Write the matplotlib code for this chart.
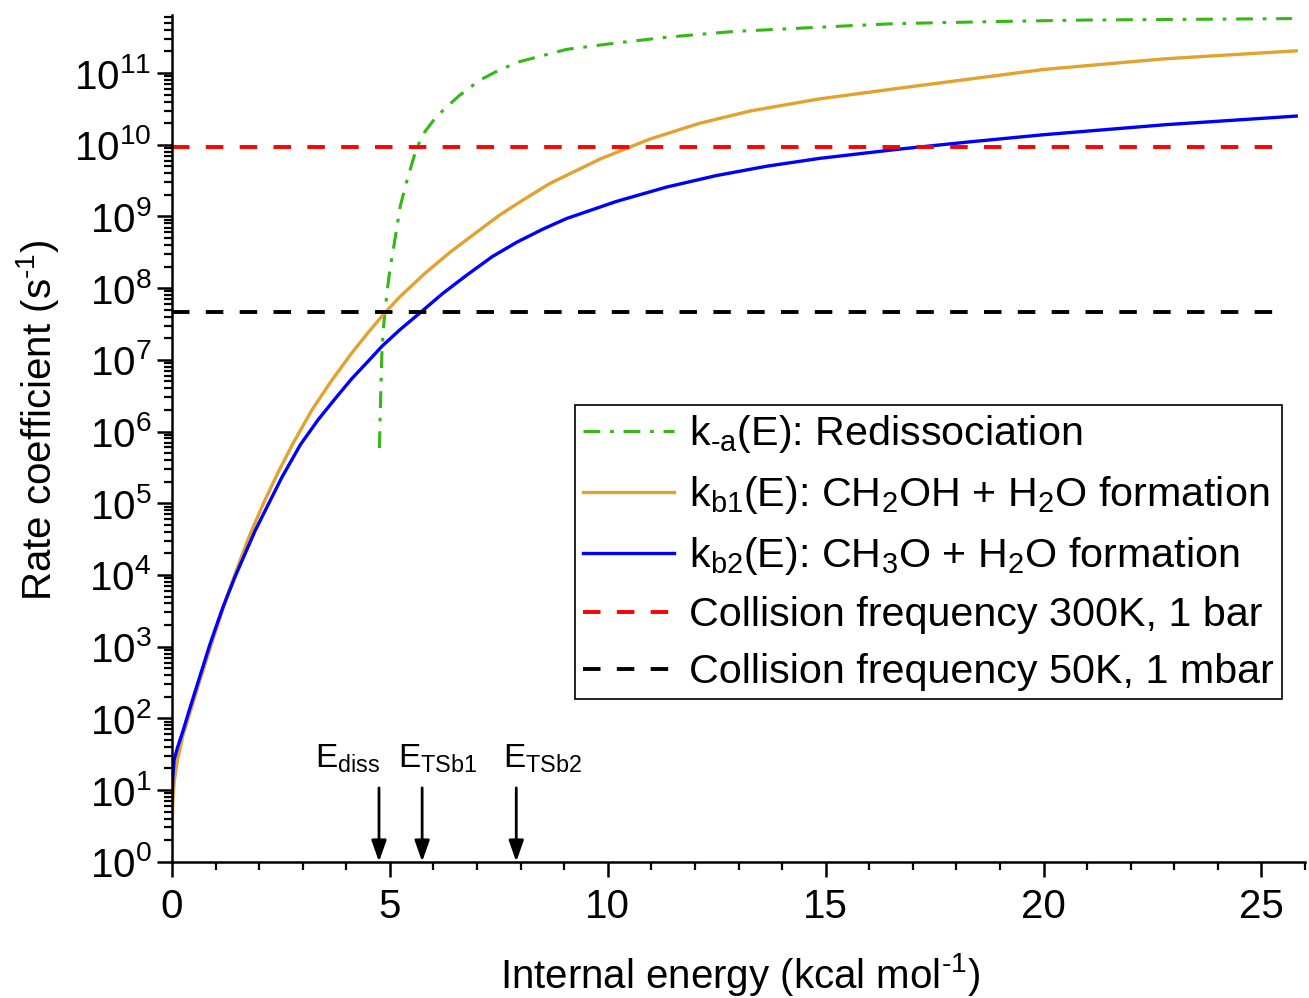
import numpy as np
import matplotlib
matplotlib.use('Agg')
import matplotlib.pyplot as plt
from matplotlib.ticker import LogLocator, MultipleLocator, NullFormatter

plt.rcParams['font.family'] = ['Liberation Sans', 'DejaVu Sans']
plt.rcParams['mathtext.fontset'] = 'custom'
plt.rcParams['mathtext.rm'] = 'Liberation Sans'
plt.rcParams['mathtext.it'] = 'Liberation Sans:italic'
plt.rcParams['mathtext.bf'] = 'Liberation Sans:bold'
plt.rcParams['mathtext.default'] = 'regular'

# ---------------- data ----------------
# k_-a(E): redissociation  (E in kcal/mol, log10 k in s^-1)
E_ka = [4.76, 4.78, 4.80, 4.82, 4.86, 4.90, 4.95, 5.01, 5.10, 5.24, 5.40, 5.61,
        5.80, 6.00, 6.22, 6.60, 7.06, 7.50, 7.98, 9.05, 10.2, 11.35, 12.88,
        15.2, 16.6, 19.0, 21.0, 23.5, 25.7]
logk_ka = [5.77, 6.30, 6.75, 7.15, 7.50, 7.75, 8.02, 8.30, 8.62, 9.15, 9.52, 9.95,
           10.18, 10.34, 10.48, 10.69, 10.90, 11.04, 11.16, 11.33, 11.42, 11.50, 11.58,
           11.65, 11.69, 11.72, 11.74, 11.75, 11.76]

# k_b1(E): CH2OH + H2O formation
E_kb1 = [0.0, 0.02, 0.05, 0.12, 0.25, 0.45, 0.64, 0.94, 1.07, 1.26, 1.50, 1.76,
         2.10, 2.45, 2.80, 3.21, 3.65, 4.13, 4.50, 4.89, 5.23, 5.81, 6.38, 6.88,
         7.52, 8.03, 8.67, 9.82, 10.97, 12.11, 13.26, 14.86, 16.7, 20.0, 22.8, 25.8]
logk_kb1 = [0.44, 0.85, 1.12, 1.40, 1.76, 2.15, 2.53, 3.10, 3.34, 3.70, 4.10, 4.52,
            5.00, 5.45, 5.86, 6.30, 6.70, 7.10, 7.38, 7.66, 7.88, 8.21, 8.50, 8.73,
            9.02, 9.22, 9.46, 9.80, 10.08, 10.30, 10.47, 10.64, 10.79, 11.05, 11.20, 11.31]

# k_b2(E): CH3O + H2O formation
E_kb2 = [0.0, 0.02, 0.05, 0.12, 0.25, 0.40, 0.57, 0.87, 1.07, 1.17, 1.45, 1.91,
         2.52, 2.95, 3.36, 3.80, 4.13, 4.50, 4.82, 5.23, 5.70, 6.20, 6.76, 7.35,
         7.91, 8.50, 9.05, 10.2, 11.35, 12.49, 13.64, 14.86, 16.7, 18.3, 20.0, 22.8, 25.8]
logk_kb2 = [0.86, 1.20, 1.42, 1.58, 1.82, 2.12, 2.45, 3.03, 3.38, 3.55, 3.98, 4.62,
            5.36, 5.82, 6.17, 6.50, 6.74, 6.98, 7.19, 7.42, 7.66, 7.92, 8.18, 8.44,
            8.64, 8.82, 8.97, 9.21, 9.41, 9.57, 9.70, 9.81, 9.94, 10.04, 10.14, 10.28, 10.40]

# collision frequencies (s^-1)
coll_300K_1bar = 9.2e9
coll_50K_1mbar = 4.6e7
E_coll = [0.0, 25.4]

# energy markers
E_marks = [4.75, 5.74, 7.90]
mark_labels = ['E$_{diss}$', 'E$_{TSb1}$', 'E$_{TSb2}$']
mark_label_E = [3.28, 5.18, 7.59]

series_labels = ['k$_{\\text{-a}}$(E): Redissociation',
                 'k$_{b1}$(E): CH$_2$OH + H$_2$O formation',
                 'k$_{b2}$(E): CH$_3$O + H$_2$O formation',
                 'Collision frequency 300K, 1 bar',
                 'Collision frequency 50K, 1 mbar']

# ---------------- figure ----------------
W, H = 1309, 998
fig = plt.figure(figsize=(W / 100, H / 100), dpi=100)
ax = fig.add_axes([172 / W, 1 - 861.7 / H, (1305 - 172) / W, (861.7 - 15) / H])

green = '#33b814'
orange = '#e2a22e'
blue = '#0000ff'

ax.plot(E_ka, 10 ** np.array(logk_ka), color=green, lw=2.2,
        dashes=(5.5, 3.2, 1.2, 3.2), label=series_labels[0])
ax.plot(E_kb1, 10 ** np.array(logk_kb1), color=orange, lw=2.4, label=series_labels[1])
ax.plot(E_kb2, 10 ** np.array(logk_kb2), color=blue, lw=2.4, label=series_labels[2])
ax.plot(E_coll, [coll_300K_1bar] * 2, color='#ff0000', lw=2.8,
        dashes=(4.5, 4.2), label=series_labels[3])
ax.plot(E_coll, [coll_50K_1mbar] * 2, color='black', lw=2.8,
        dashes=(4.5, 4.2), label=series_labels[4])

ax.set_yscale('log')
ax.set_xlim(0, 26.0)
ax.set_ylim(1, 10 ** 11.81)

ax.xaxis.set_major_locator(MultipleLocator(5))
ax.xaxis.set_minor_locator(MultipleLocator(1))
ax.yaxis.set_major_locator(LogLocator(base=10, numticks=20))
ax.yaxis.set_minor_locator(LogLocator(base=10, subs=np.arange(2, 10), numticks=20))
ax.yaxis.set_minor_formatter(NullFormatter())

for s in ['top', 'right']:
    ax.spines[s].set_visible(False)
for s in ['left', 'bottom']:
    ax.spines[s].set_linewidth(1.8)

ax.tick_params(which='major', direction='out', length=10.8, width=1.8,
               labelsize=29)
ax.tick_params(which='minor', direction='out', length=5.8, width=1.6)
ax.tick_params(axis='x', which='major', pad=8)
ax.tick_params(axis='y', which='major', pad=4)

# arrows for energy markers
for e in E_marks:
    ax.annotate('', xy=(e, 1.0), xytext=(e, 10 ** 1.03),
                arrowprops=dict(arrowstyle='-|>,head_length=0.85,head_width=0.3',
                                mutation_scale=15, lw=2.0, color='black',
                                shrinkA=0, shrinkB=0),
                annotation_clip=False)
for xe, lab in zip(mark_label_E, mark_labels):
    ax.text(xe, 10 ** 1.31, lab, fontsize=24, ha='left', va='baseline')

# axis titles
fig.text(38 / W, 1 - 420 / H, 'Rate coefficient (s$^{\\text{-1}}$)', rotation=90,
         ha='center', va='center', fontsize=29)
fig.text(740 / W, 1 - 975 / H, 'Internal energy (kcal mol$^{\\text{-1}}$)',
         ha='center', va='center', fontsize=29)

leg = ax.legend(loc='upper left', bbox_to_anchor=(575 / W, 1 - 405 / H),
                bbox_transform=fig.transFigure, borderaxespad=0,
                fontsize=29.7, handlelength=2.2, handletextpad=0.36,
                labelspacing=0.46, borderpad=0.2, fancybox=False,
                framealpha=1, edgecolor='black')
leg.get_frame().set_linewidth(1.2)

fig.savefig('out.png', dpi=100)
